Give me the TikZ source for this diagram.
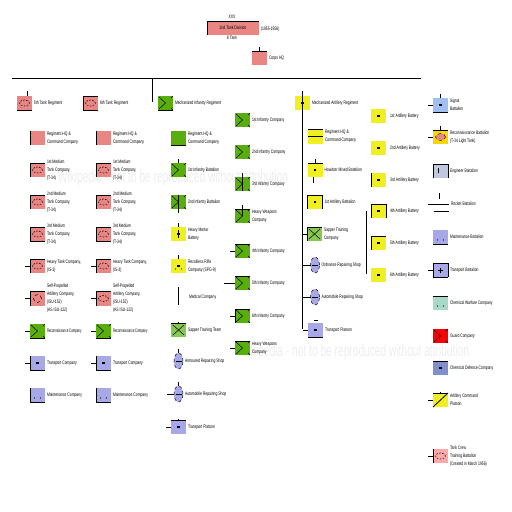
\documentclass[tikz,border=0pt]{standalone}
\usepackage{fontspec}
\setmainfont{Liberation Sans}
\usetikzlibrary{shapes.geometric,calc}
\definecolor{tankc}{HTML}{E98683}
\definecolor{infc}{HTML}{5AAE0C}
\definecolor{artc}{HTML}{F0F020}
\definecolor{bluc}{HTML}{A8A8E8}
\definecolor{sapc}{HTML}{88C850}
\definecolor{sigc}{HTML}{9FC0F0}
\definecolor{recc}{HTML}{F5D800}
\definecolor{engc}{HTML}{C0C8E0}
\definecolor{chec}{HTML}{A8D8C8}
\definecolor{slac}{HTML}{8090C8}
\definecolor{traic}{HTML}{FFAAAA}
\tikzset{
  x=1pt,y=1pt,
  ubox/.style={anchor=north west,minimum width=15pt,minimum height=14pt,inner sep=0,outer sep=0},
  oval/.style={ellipse,draw=black,dashed,line width=.5pt,fill=bluc,minimum width=9pt,minimum height=16pt,inner sep=0,outer sep=0},
  lab/.style={anchor=west,align=left,inner sep=0,outer sep=0,xscale=.68,transform shape,font=\fontsize{5}{8}\selectfont},
  bl/.style={draw=black,line width=.8pt},
  sym/.style={draw=black,line width=.5pt},
  wmark/.style={text=black!7,font=\fontsize{17}{17}\selectfont,inner sep=0}
}
% unit box with label: name, x, y, colour, label
\newcommand\ub[5]{\node[ubox,fill=#4] (#1) at (#2,-#3) {};
  \node[lab] (#1l) at ([xshift=2pt]#1.east) {#5};}
\newcommand\ov[4]{\node[oval] (#1) at (#2,-#3) {};
  \draw[sym] ([xshift=-3pt]#1.center) -- ([xshift=3pt]#1.center);
  \node[lab] (#1l) at ([xshift=2pt]#1.east) {#4};}
\newcommand\dT[1]{\draw[bl] (#1.north west) -- (#1.north east);}
\newcommand\dB[1]{\draw[bl] (#1.south west) -- (#1.south east);}
\newcommand\dL[1]{\draw[bl] (#1.north west) -- (#1.south west);}
\newcommand\dR[1]{\draw[bl] (#1.north east) -- (#1.south east);}
\newcommand\tL[2]{\draw[bl] (#1.west) -- ++(-#2,0);}
\newcommand\tU[2]{\draw[bl] (#1.north) -- ++(0,#2);}
\newcommand\tank[1]{\draw[sym,dashed,dash pattern=on 1.5pt off 1.5pt] (#1.center) ellipse (5pt and 3pt);}
\newcommand\infs[1]{\draw[sym] ($(#1.south west)+(1,1)$) -- (#1.center) -- ($(#1.north west)+(1,-1)$);
  \draw[sym] (#1.north east) -- ++(-2,-2); \draw[sym] (#1.south east) -- ++(-2,2);}
\newcommand\xm[1]{\draw[sym] ($(#1.south west)+(2,2)$) -- ($(#1.north east)+(-2,-2)$);
  \draw[sym] ($(#1.north west)+(2,-2)$) -- ($(#1.south east)+(-2,2)$);}
\newcommand\sq[1]{\fill[black] ($(#1.center)+(-1.2,-1.2)$) rectangle ++(2.4,2.4);}
\newcommand\dd[1]{\fill[black] ($(#1.center)+(-3,-3)$) circle (.6pt) ($(#1.center)+(3,-3)$) circle (.6pt);}
\begin{document}
\begin{tikzpicture}
\useasboundingbox (0,0) rectangle (512,-512);
\node[wmark] (w1) at (173,-178) {\scalebox{.6}[1]{Wikipedia - not to be reproduced without attribution}};
\node[wmark] (w2) at (354,-352) {\scalebox{.6}[1]{Wikipedia - not to be reproduced without attribution}};

% headquarters
\node[anchor=north west,minimum width=52pt,minimum height=14pt,inner sep=0,outer sep=0,fill=tankc] (div) at (207,-21) {};
\node[lab,anchor=center] (divl) at (div.center) {2nd Tank Division};
\dT{div} \dL{div}
\node[lab,anchor=center] (divx) at (232,-17) {XXX};
\node[lab,anchor=center] (divb) at (232,-38) {8 Tank};
\node[lab] (divd) at (261,-29) {(1955-1956)};
\ub{hq}{252}{51}{tankc}{Corps HQ}
\dT{hq} \tU{hq}{4}

% main rule
\coordinate (ra) at (12,-78.5);
\coordinate (rb) at (421,-78.5);
\coordinate (rc) at (152,-78.5);
\coordinate (rd) at (152,-102);
\draw[bl] (ra) -- (rb);
\draw[bl] (rc) -- (rd);

% tank regiments
\ub{tra}{17}{96}{tankc}{5th Tank Regiment}
\dB{tra} \tank{tra} \draw[bl] ([xshift=3pt]tra.north) -- ++(0,5);
\ub{trb}{83}{96}{tankc}{6th Tank Regiment}
\dT{trb} \dB{trb} \dL{trb} \tank{trb}

\ub{a1}{30}{131}{tankc}{Regiment HQ \&\\Command Company} \dL{a1}
\ub{b1}{96}{131}{tankc}{Regiment HQ \&\\Command Company} \dL{b1}
\ub{a2}{30}{163}{tankc}{1st Medium\\Tank Company,\\(T-34)} \dL{a2} \dT{a2} \tank{a2}
\ub{b2}{96}{163}{tankc}{1st Medium\\Tank Company,\\(T-34)} \dL{b2} \dT{b2} \tank{b2}
\ub{a3}{30}{195}{tankc}{2nd Medium\\Tank Company,\\(T-34)} \dL{a3} \dT{a3} \tank{a3}
\ub{b3}{96}{195}{tankc}{2nd Medium\\Tank Company,\\(T-34)} \dL{b3} \dT{b3} \tank{b3}
\ub{a4}{30}{227}{tankc}{3rd Medium\\Tank Company,\\(T-34)} \dL{a4} \dT{a4} \dB{a4} \tank{a4}
\ub{b4}{96}{227}{tankc}{3rd Medium\\Tank Company,\\(T-34)} \dL{b4} \dT{b4} \dB{b4} \tank{b4}
\ub{a5}{30}{259}{tankc}{Heavy Tank Company,\\(IS-3)} \dL{a5} \dT{a5} \tL{a5}{5} \tank{a5}
\ub{b5}{96}{259}{tankc}{Heavy Tank Company,\\(IS-3)} \dL{b5} \dT{b5} \tL{b5}{5} \tank{b5}
\ub{a6}{30}{291.5}{tankc}{Self-Propelled\\Artillery Company,\\(ISU-152)\\(AS ISU-122)} \dL{a6} \dT{a6} \tL{a6}{5}
\draw[sym,dashed] (a6.center) circle (4pt);
\ub{b6}{96}{291.5}{tankc}{Self-Propelled\\Artillery Company,\\(ISU-152)\\(AS ISU-122)} \dL{b6} \dT{b6} \tL{b6}{5} \tank{b6}
\ub{a7}{30}{324}{infc}{\scalebox{.85}[1]{Reconnaissance Company}} \dB{a7} \tL{a7}{5} \infs{a7}
\ub{b7}{96}{324}{infc}{\scalebox{.85}[1]{Reconnaissance Company}} \dB{b7} \tL{b7}{5} \infs{b7}
\ub{a8}{30}{356}{bluc}{Transport Company} \dB{a8} \tL{a8}{5} \dL{a8} \sq{a8}
\ub{b8}{96}{356}{bluc}{Transport Company} \dB{b8} \tL{b8}{5} \dL{b8} \sq{b8}
\ub{a9}{30}{388}{bluc}{Maintenance Company} \dB{a9} \dL{a9} \dd{a9}
\ub{b9}{96}{388}{bluc}{Maintenance Company} \dB{b9} \dL{b9} \dd{b9}

% mechanized infantry regiment
\ub{mi}{158}{96}{infc}{Mechanized Infantry Regiment} \dB{mi} \infs{mi}
\ub{c1}{171}{131}{infc}{Regiment HQ \&\\Command Company} \dB{c1}
\ub{c2}{171}{163}{infc}{1st Infantry Battalion} \tU{c2}{4} \infs{c2}
\ub{c3}{171}{195}{infc}{2nd Infantry Battalion} \infs{c3}
\draw[bl] (c3.north) -- ([yshift=-4pt]c3.south);
\ub{c4}{171}{227}{artc}{Heavy Mortar\\Battery} \tU{c4}{4} \sq{c4} \draw[sym] ($(c4.center)+(0,-4)$) -- ++(0,8);
\ub{c5}{171}{259}{artc}{Recoilless Rifle\\Company (SPG-9)} \tU{c5}{4} \sq{c5} \dd{c5}
\coordinate (med1) at (178.5,-287);
\coordinate (med2) at (178.5,-305);
\draw[bl] (med1) -- (med2);
\node[lab] (medl) at (189,-297) {Medical Company};
\ub{c7}{171}{323}{sapc}{Sapper Training Team} \dT{c7} \tU{c7}{1.5} \xm{c7}
\ov{c8}{178.5}{361}{Armoured Repairing Shop} \draw[bl] (c8.north) -- ++(0,4);
\ov{c9}{178.5}{394}{Automobile Repairing Shop} \draw[bl] (c9.north) -- ++(0,4); \tL{c9}{7}
\ub{c10}{171}{420}{bluc}{Transport Platoon} \dT{c10} \tU{c10}{1.5} \tL{c10}{5} \sq{c10}

\ub{d1}{235}{113}{infc}{1st Infantry Company} \infs{d1}
\ub{d2}{235}{145}{infc}{2nd Infantry Company} \infs{d2}
\ub{d3}{235}{177}{infc}{3rd Infantry Company} \infs{d3} \draw[bl] ([yshift=4pt]d3.north) -- (d3.south);
\ub{d4}{235}{209}{infc}{Heavy Weapons\\Company} \infs{d4} \dT{d4} \draw[bl] ([yshift=4pt]d4.north) -- (d4.center);
\ub{d5}{235}{244}{infc}{4th Infantry Company} \infs{d5} \dT{d5} \tL{d5}{5}
\ub{d6}{235}{276}{infc}{5th Infantry Company} \infs{d6} \dT{d6} \tL{d6}{11}
\ub{d7}{235}{309}{infc}{6th Infantry Company} \infs{d7} \dT{d7} \tL{d7}{5} \dL{d7}
\ub{d8}{235}{341}{infc}{Heavy Weapons\\Company} \infs{d8} \dT{d8} \tL{d8}{5}

% mechanized artillery regiment
\ub{ma}{295}{96}{artc}{Mechanized Artillery Regiment} \sq{ma}
\coordinate (sp1) at (302.5,-91);
\coordinate (sp2) at (302.5,-329);
\draw[bl] (sp1) -- (sp2);
\ub{e1}{308}{129.5}{artc}{Regiment HQ \&\\Command Company} \dT{e1}
\draw[bl] (e1.west) -- (e1.east);
\ub{e2}{307.5}{163}{artc}{Howitzer Mixed Battalion} \dT{e2} \tU{e2}{4} \sq{e2}
\draw[bl] ($(e2.south)+(-2,0)$) -- ++(0,-6);
\ub{e3}{307.5}{195}{artc}{1st Artillery Battalion} \dT{e3} \dL{e3} \dR{e3} \sq{e3}
\ub{e4}{307}{227}{sapc}{Sapper Training\\Company} \dT{e4} \dL{e4} \draw[bl] (e4.west) -- (e4.west -| sp1); \xm{e4}
\ov{e5}{315}{265}{Ordnance Repairing Shop} \draw[bl] (e5.west) -- (e5.west -| sp1);
\ov{e6}{315}{297}{Automobile Repairing Shop} \draw[bl] (e6.west) -- (e6.west -| sp1);
\ub{e7}{308}{323}{bluc}{Transport Platoon} \dB{e7} \draw[bl] (e7.west) -- (e7.west -| sp1); \sq{e7}
\draw[sym] ($(e7.north)+(-2,2.5)$) -- ++(4,0);

\ub{f1}{371}{109}{artc}{\hspace{3pt}1st Artillery Battery} \sq{f1}
\ub{f2}{371}{141}{artc}{\hspace{3pt}2nd Artillery Battery} \sq{f2}
\ub{f3}{371}{173}{artc}{\hspace{3pt}3rd Artillery Battery} \dL{f3} \sq{f3}
\ub{f4}{371}{204}{artc}{\hspace{3pt}4th Artillery Battery} \dL{f4} \dR{f4} \dT{f4} \sq{f4}
\ub{f5}{371}{236}{artc}{\hspace{3pt}5th Artillery Battery} \dL{f5} \dT{f5} \sq{f5}
\ub{f6}{371}{268}{artc}{\hspace{3pt}6th Artillery Battery} \sq{f6}
\coordinate (fa) at (366.5,-211);
\coordinate (fb) at (366.5,-274);
\draw[bl] (fa) -- (fb);

% divisional units
\ub{g1}{433}{98}{sigc}{Signal\\Battalion} \dB{g1} \tU{g1}{4} \tL{g1}{5} \sq{g1}
\ub{g2}{433}{130}{recc}{Reconnaissance Battalion\\(T-34 Light Tank)} \dT{g2} \tU{g2}{4} \tL{g2}{5}
\draw[draw=black,dashed,line width=.4pt,fill=tankc] (g2.center) ellipse (5pt and 3.5pt);
\ub{g3}{433}{164}{engc}{Engineer Battalion} \dT{g3} \dL{g3} \dR{g3} \draw[sym] ($(g3.center)+(-2,-2)$) -- ++(0,5);
\coordinate (g4a) at (439,-193);
\coordinate (g4b) at (439,-199);
\coordinate (g4c) at (428,-204);
\coordinate (g4d) at (449,-204);
\coordinate (g4e) at (434,-211);
\coordinate (g4f) at (449,-211);
\draw[bl] (g4a) -- (g4b);
\draw[bl] (g4c) -- (g4d);
\draw[bl] (g4e) -- (g4f);
\node[lab] (g4l) at (451,-204) {Rocket Battalion};
\ub{g5}{433}{230}{bluc}{Maintenance Battalion} \dB{g5} \dd{g5}
\ub{g6}{433}{263}{bluc}{Transport Battalion} \dT{g6} \dB{g6} \dL{g6} \dR{g6} \tL{g6}{5}
\draw[sym] ($(g6.center)+(-2.5,0)$) -- ++(5,0) ($(g6.center)+(0,-2.5)$) -- ++(0,5);
\ub{g7}{433}{296}{chec}{Chemical Warfare Company} \dT{g7} \dd{g7}
\ub{g8}{433}{329}{red}{Guard Company} \infs{g8}
\ub{g9}{433}{361}{slac}{Chemical Defence Company} \dT{g9} \sq{g9}
\ub{g10}{433}{393}{artc}{Artillery Command\\Platoon} \dT{g10} \tL{g10}{5} \tU{g10}{1.5}
\draw[bl] (g10.south west) -- (g10.north east);
\ub{g11}{433}{449}{traic}{Tank Crew\\Training Battalion\\(Created in March 1956)} \dL{g11} \tL{g11}{5} \tank{g11}
\end{tikzpicture}
\end{document}
